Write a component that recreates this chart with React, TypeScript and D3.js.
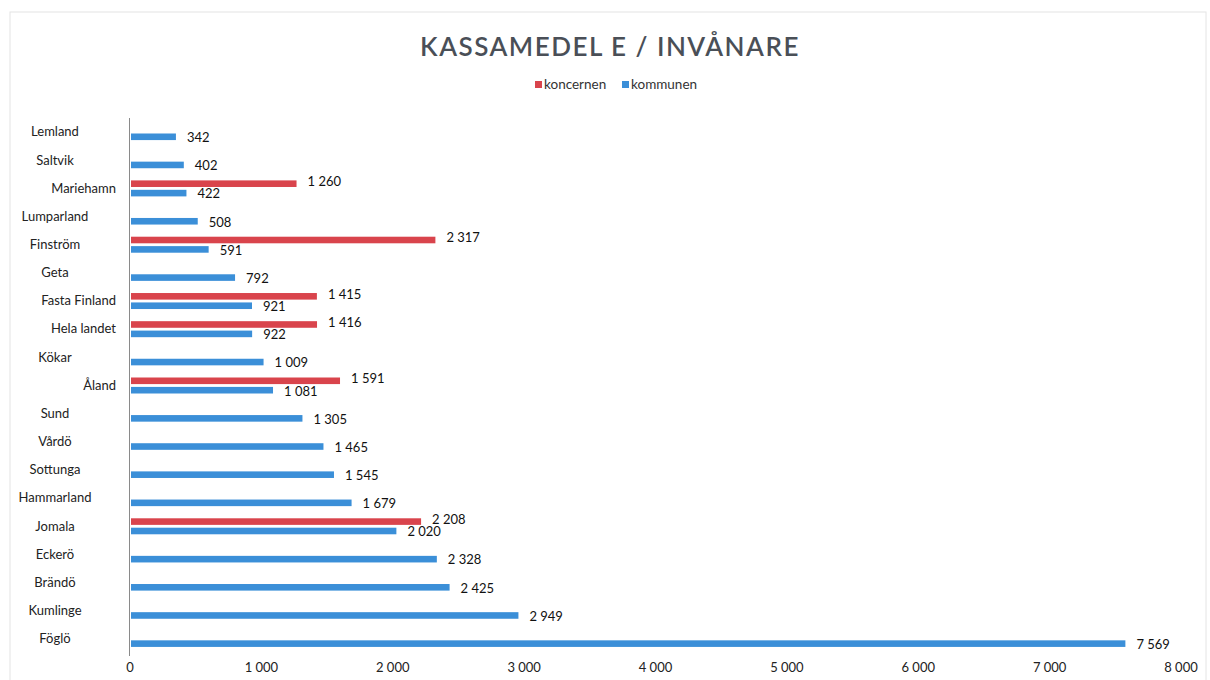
import React from 'react';
import * as d3 from 'd3';

const categories = [
  'Lemland', 'Saltvik', 'Mariehamn', 'Lumparland', 'Finström', 'Geta',
  'Fasta Finland', 'Hela landet', 'Kökar', 'Åland', 'Sund', 'Vårdö',
  'Sottunga', 'Hammarland', 'Jomala', 'Eckerö', 'Brändö', 'Kumlinge', 'Föglö',
];
const kommunen = [342, 402, 422, 508, 591, 792, 921, 922, 1009, 1081, 1305, 1465, 1545, 1679, 2020, 2328, 2425, 2949, 7569];
const koncernen: (number | null)[] = [null, null, 1260, null, 2317, null, 1415, 1416, null, 1591, null, null, null, null, 2208, null, null, null, null];
const xTicks = [0, 1000, 2000, 3000, 4000, 5000, 6000, 7000, 8000];
const seriesNames = ['koncernen', 'kommunen'];

const Width = 1210;
const Height = 680;
const colors: Record<string, string> = { koncernen: '#d9444c', kommunen: '#3b8fd8' };
const font = 'Lato, "Open Sans", sans-serif';

// labels that the original shows pushed up against the axis
const rightLabels = new Set(['Mariehamn', 'Fasta Finland', 'Hela landet', 'Åland']);

const fmt = d3.formatLocale({ decimal: ',', thousands: '\u00a0', grouping: [3], currency: ['', ''] }).format(',d');

const App = () => {
  const xScale = d3.scaleLinear().domain([0, 8000]).range([130, 1181]);
  const yScale = d3.scaleBand().domain(categories).range([120, 655]);
  const inner = d3.scaleBand().domain(seriesNames).range([-10, 6]).paddingInner(0.3);

  const rows = categories.map((c, i) => ({ name: c, koncernen: koncernen[i], kommunen: kommunen[i] }));

  return (
    <svg width={Width} height={Height} style={{ position: 'absolute', left: 0, top: 0, background: '#fff' }}>
      <rect x={10} y={12} width={1196} height={670} fill="none" stroke="#e4e4e4" />
      <text x={610} y={56} textAnchor="middle" fill="#4a4f57"
        style={{ fontFamily: font, fontSize: '26px', fontWeight: 600, letterSpacing: '1.5px' }}>
        KASSAMEDEL E / INVÅNARE
      </text>

      {/* legend */}
      <g style={{ fontFamily: font, fontSize: '13.5px' }} fill="#333">
        <rect x={535} y={81} width={7} height={7} fill={colors.koncernen} />
        <text x={544} y={89}>koncernen</text>
        <rect x={622} y={81} width={7} height={7} fill={colors.kommunen} />
        <text x={631} y={89}>kommunen</text>
      </g>

      <line x1={129.5} x2={129.5} y1={118} y2={656} stroke="#8a8a8a" />

      {rows.map((r) => {
        const cy = yScale(r.name)! + yScale.bandwidth() / 2;
        return (
          <g key={r.name}>
            <text
              x={rightLabels.has(r.name) ? 116 : 55}
              y={cy - 1}
              textAnchor={rightLabels.has(r.name) ? 'end' : 'middle'}
              dominantBaseline="middle"
              fill="#222"
              style={{ fontFamily: font, fontSize: '13px' }}
            >
              {r.name}
            </text>
            {seriesNames.map((s) => {
              const v = (r as any)[s] as number | null;
              if (v == null) return null;
              const y = cy + inner(s)!;
              const dy = s === 'koncernen' ? -1 : 2;
              return (
                <g key={s}>
                  <rect x={xScale(0) + 1} y={y} width={xScale(v) - xScale(0)} height={inner.bandwidth()} fill={colors[s]} />
                  <text x={xScale(v) + 12} y={y + inner.bandwidth() / 2 + dy} dominantBaseline="middle" fill="#111"
                    style={{ fontFamily: font, fontSize: '13px' }}>
                    {fmt(v)}
                  </text>
                </g>
              );
            })}
          </g>
        );
      })}

      <g style={{ fontFamily: font, fontSize: '13px' }} fill="#222">
        {xTicks.map((t) => (
          <text key={t} x={xScale(t)} y={672} textAnchor="middle">{fmt(t)}</text>
        ))}
      </g>
    </svg>
  );
};

export default App;
